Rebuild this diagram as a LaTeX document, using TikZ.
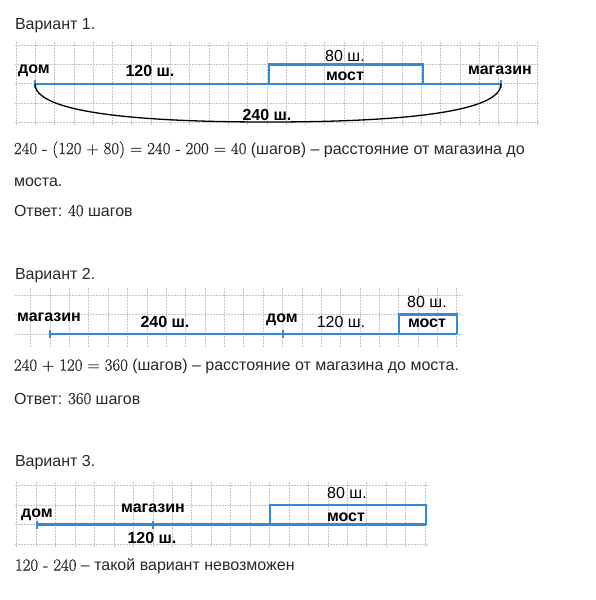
\documentclass[tikz,border=0pt]{standalone}
\usepackage{fontspec}
\setsansfont{Liberation Sans}
\newfontfamily\numfont{Latin Modern Roman}[FakeBold=0.6]
\usetikzlibrary{positioning}
\definecolor{txtgray}{RGB}{40,40,40}
\definecolor{lineblue}{RGB}{52,138,214}
\definecolor{gridgray}{RGB}{196,196,196}
\tikzset{font=\sffamily\fontsize{16}{19}\selectfont}
\newcommand{\nm}[1]{{\numfont\fontsize{16.8}{19}\selectfont #1}}

\begin{document}
\begin{tikzpicture}[x=1pt,y=-1pt,
    every node/.style={inner sep=0pt,outer sep=0pt},
    txt/.style={anchor=base west,text=txtgray},
    lbl/.style={anchor=base,font=\sffamily\fontsize{16}{19}\selectfont\bfseries},
    lbln/.style={anchor=base,font=\sffamily\fontsize{16}{19}\selectfont},
    gridln/.style={draw=gridgray,line width=0.7pt,dash pattern=on 1.5pt off 1.5pt},
    road/.style={draw=lineblue,line width=2.4pt},
    tickln/.style={draw=lineblue,line width=1.6pt},
    span/.style={draw=black,line width=1.3pt}]
      \useasboundingbox (0,0) rectangle (596,600);

      % Variant 1
      \node[txt] (V1) at (15,29) {Вариант 1.};
      \foreach \y in {45,64.3,83.7,103,122.4} \draw[gridln] (15,\y) -- (540,\y);
      \foreach \k in {0,...,27} \draw[gridln] (16+19.3*\k,42) -- (16+19.3*\k,126);

      \coordinate (h1) at (35,84);
      \coordinate (s1) at (501,84);
      \coordinate (b1l) at (269,84);
      \coordinate (b1r) at (423,84);
      \draw[road] (h1) -- (s1);
      \draw[road] (b1l) -- ++(0,-19.5) -| (b1r);
      \draw[tickln] ([yshift=4pt]h1) -- ([yshift=-4pt]h1);
      \draw[tickln] ([yshift=4pt]s1) -- ([yshift=-4pt]s1);
      \draw[span] (h1) .. controls (35,110) and (120,122) .. (268,122) .. controls (416,122) and (501,110) .. (s1);

      \node[lbl] (H1) at (34,73.5) {дом};
      \node[lbl] (D1) at (150,76) {120 ш.};
      \node[lbln] (M1) at (345,61.5) {80 ш.};
      \node[lbl] (B1) at (345,80) {мост};
      \node[lbl] (S1) at (500,74) {магазин};
      \node[lbl] (T1) at (267,120) {240 ш.};

      \node[txt] (E1) at (14,154) {\nm{240 - (120 + 80) = 240 - 200 = 40} (шагов) – расстояние от магазина до};
      \node[txt] (E1b) at (14,186) {моста.};
      \node[txt] (A1) at (14,216) {Ответ: \nm{40} шагов};

      % Variant 2
      \node[txt] (V2) at (15,279) {Вариант 2.};
      \foreach \y in {295,314.5,334} \draw[gridln] (15,\y) -- (463,\y);
      \foreach \k in {0,...,22} \draw[gridln] (30.7+19.37*\k,288) -- (30.7+19.37*\k,348);

      \coordinate (s2) at (50,334);
      \coordinate (h2) at (283,334);
      \coordinate (b2l) at (399,334);
      \coordinate (b2r) at (457,334);
      \draw[road] (s2) -- (b2r);
      \draw[road] (b2l) -- ++(0,-19.5) -| (b2r);
      \draw[tickln] ([yshift=4pt]s2) -- ([yshift=-4pt]s2);
      \draw[tickln] ([yshift=4pt]h2) -- ([yshift=-4pt]h2);

      \node[lbl] (S2) at (49,321.7) {магазин};
      \node[lbl] (T2) at (165,327) {240 ш.};
      \node[lbl] (H2) at (282,322) {дом};
      \node[lbln] (D2) at (341,327) {120 ш.};
      \node[lbln] (M2) at (427,307) {80 ш.};
      \node[lbl] (B2) at (427,327) {мост};

      \node[txt] (E2) at (14,370.5) {\nm{240 + 120 = 360} (шагов) – расстояние от магазина до моста.};
      \node[txt] (A2) at (14,404) {Ответ: \nm{360} шагов};

      % Variant 3
      \node[txt] (V3) at (15,466.5) {Вариант 3.};
      \foreach \y in {485,505,524.5,544} \draw[gridln] (15,\y) -- (428,\y);
      \foreach \k in {0,...,21} \draw[gridln] (16.7+19.45*\k,482) -- (16.7+19.45*\k,548);

      \coordinate (h3) at (37,524.5);
      \coordinate (s3) at (153,524.5);
      \coordinate (b3l) at (270,524.5);
      \coordinate (b3r) at (426,524.5);
      \draw[road] (h3) -- (b3r);
      \draw[road] (b3l) -- ++(0,-19.5) -| (b3r);
      \draw[tickln] ([yshift=4pt]h3) -- ([yshift=-4pt]h3);
      \draw[tickln] ([yshift=4pt]s3) -- ([yshift=-4pt]s3);

      \node[lbl] (H3) at (37,517) {дом};
      \node[lbl] (S3) at (153,512.7) {магазин};
      \node[lbl] (D3) at (152,543) {120 ш.};
      \node[lbln] (M3) at (347,498) {80 ш.};
      \node[lbl] (B3) at (346,521) {мост};

      \node[txt] (E3) at (15,570.5) {\nm{120 - 240} – такой вариант невозможен};
  \end{tikzpicture}
\end{document}
